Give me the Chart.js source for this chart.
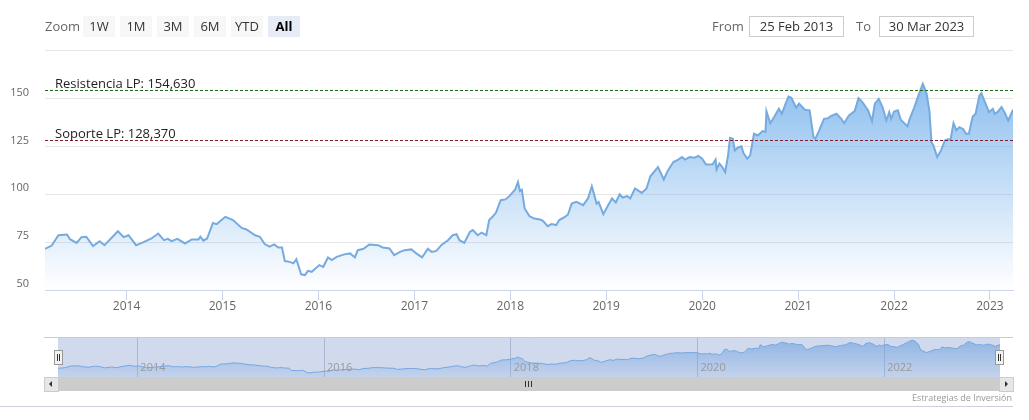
<!DOCTYPE html>
<html>
<head>
<meta charset="utf-8">
<script src="https://cdn.jsdelivr.net/npm/chart.js@4.4.0/dist/chart.umd.min.js"></script>
<style>
  body { margin: 0; background: #fff; font-family: 'Open Sans', sans-serif; }
  #wrap { position: relative; width: 1029px; height: 420px; overflow: hidden; }
  .abs { position: absolute; }
  .lbl { color: #666; font-size: 13px; line-height: 21px; top: 16px; }
  .btn { top: 16px; width: 32px; height: 21px; line-height: 21px; background: #f7f7f7;
         color: #333; font-size: 13px; text-align: center; }
  .btn.sel { background: #e6ebf5; color: #000; font-weight: bold; }
  .inp { top: 16px; height: 19px; line-height: 19px; border: 1px solid #ccc; color: #333;
         font-size: 13px; text-align: center; }
  #mainWrap { left: 0; top: 28px; width: 1029px; height: 294px; }
  #navWrap { left: 0; top: 330px; width: 1029px; height: 50px; }
  .handle { width: 7px; height: 13px; top: 350px; background: #f2f2f2; border: 1px solid #999; }
  .handle i { position: absolute; top: 3px; width: 1px; height: 7px; background: #333; }
</style>
</head>
<body>
<div id="wrap">
  <div class="abs" id="mainWrap"><canvas id="mainChart"></canvas></div>
  <div class="abs" id="navWrap"><canvas id="navChart"></canvas></div>

  <div class="abs lbl" style="left:45px">Zoom</div>
  <div class="abs btn" style="left:83px">1W</div>
  <div class="abs btn" style="left:120px">1M</div>
  <div class="abs btn" style="left:157px">3M</div>
  <div class="abs btn" style="left:194px">6M</div>
  <div class="abs btn" style="left:231px">YTD</div>
  <div class="abs btn sel" style="left:268px">All</div>

  <div class="abs lbl" style="left:712px">From</div>
  <div class="abs inp" style="left:749px;width:93px">25 Feb 2013</div>
  <div class="abs lbl" style="left:856px">To</div>
  <div class="abs inp" style="left:879px;width:93px">30 Mar 2023</div>

  <!-- scrollbar -->
  <div class="abs" style="left:44px;top:377px;width:969px;height:14px;background:#cccccc"></div>
  <div class="abs" style="left:44px;top:377px;width:13px;height:13px;background:#e6e6e6;border:1px solid #ccc"></div>
  <div class="abs" style="left:999px;top:377px;width:13px;height:13px;background:#e6e6e6;border:1px solid #ccc"></div>
  <div class="abs" style="left:49px;top:381px;width:0;height:0;border-top:3px solid transparent;border-bottom:3px solid transparent;border-right:3px solid #333"></div>
  <div class="abs" style="left:1005px;top:381px;width:0;height:0;border-top:3px solid transparent;border-bottom:3px solid transparent;border-left:3px solid #333"></div>
  <div class="abs" style="left:525px;top:381px;width:1px;height:6px;background:#333"></div>
  <div class="abs" style="left:528px;top:381px;width:1px;height:6px;background:#333"></div>
  <div class="abs" style="left:531px;top:381px;width:1px;height:6px;background:#333"></div>

  <div class="abs handle" style="left:54px"><i style="left:2px"></i><i style="left:4px"></i></div>
  <div class="abs handle" style="left:995px"><i style="left:2px"></i><i style="left:4px"></i></div>

  <div class="abs" style="right:17px;top:391px;font-size:9px;color:#999">Estrategias de Inversión</div>
  <div class="abs" style="left:0;top:406px;width:1013px;height:1px;background:#ccd0d8"></div>
</div>

<script>
// decimal years and prices
const years = [
  2013.15, 2013.22, 2013.29, 2013.38, 2013.41, 2013.48, 2013.53, 2013.58, 2013.65, 2013.72,
  2013.77, 2013.91, 2013.97, 2014.02, 2014.10, 2014.16, 2014.26, 2014.33, 2014.39, 2014.43,
  2014.47, 2014.53, 2014.61, 2014.68, 2014.75, 2014.77, 2014.80, 2014.84, 2014.90, 2014.94,
  2014.99, 2015.03, 2015.11, 2015.20, 2015.25, 2015.34, 2015.39, 2015.44, 2015.49, 2015.54,
  2015.58, 2015.62, 2015.65, 2015.70, 2015.74, 2015.77, 2015.82, 2015.86, 2015.89, 2015.93,
  2016.01, 2016.05, 2016.10, 2016.14, 2016.19, 2016.27, 2016.33, 2016.38, 2016.41, 2016.47,
  2016.53, 2016.62, 2016.67, 2016.74, 2016.79, 2016.85, 2016.90, 2016.97, 2017.02, 2017.08,
  2017.14, 2017.18, 2017.23, 2017.28, 2017.35, 2017.40, 2017.44, 2017.47, 2017.52, 2017.58,
  2017.61, 2017.66, 2017.70, 2017.75, 2017.78, 2017.82, 2017.85, 2017.90, 2017.95, 2017.99,
  2018.05, 2018.08, 2018.10, 2018.12, 2018.15, 2018.20, 2018.25, 2018.31, 2018.34, 2018.39,
  2018.43, 2018.48, 2018.51, 2018.57, 2018.60, 2018.64, 2018.69, 2018.76, 2018.81, 2018.85,
  2018.90, 2018.92, 2018.97, 2019.02, 2019.06, 2019.10, 2019.14, 2019.17, 2019.22, 2019.25,
  2019.30, 2019.37, 2019.42, 2019.46, 2019.54, 2019.60, 2019.64, 2019.70, 2019.75, 2019.79,
  2019.82, 2019.87, 2019.92, 2019.96, 2020.00, 2020.04, 2020.11, 2020.14, 2020.15, 2020.18,
  2020.21, 2020.24, 2020.27, 2020.29, 2020.32, 2020.34, 2020.37, 2020.41, 2020.43, 2020.47,
  2020.50, 2020.54, 2020.58, 2020.63, 2020.66, 2020.67, 2020.71, 2020.75, 2020.80, 2020.83,
  2020.87, 2020.90, 2020.93, 2020.98, 2021.01, 2021.07, 2021.12, 2021.16, 2021.18, 2021.22,
  2021.27, 2021.31, 2021.34, 2021.40, 2021.45, 2021.48, 2021.53, 2021.59, 2021.63, 2021.67,
  2021.73, 2021.77, 2021.80, 2021.84, 2021.88, 2021.92, 2021.95, 2021.97, 2022.00, 2022.04,
  2022.07, 2022.14, 2022.16, 2022.21, 2022.25, 2022.30, 2022.34, 2022.37, 2022.39, 2022.41,
  2022.45, 2022.49, 2022.53, 2022.56, 2022.59, 2022.62, 2022.65, 2022.68, 2022.72, 2022.75,
  2022.78, 2022.82, 2022.85, 2022.89, 2022.91, 2022.94, 2022.99, 2023.03, 2023.05, 2023.08,
  2023.12, 2023.15, 2023.19, 2023.24
];
const prices = [
  71.5, 73.2, 78.6, 79.0, 76.5, 74.6, 77.6, 77.8, 72.9, 75.5,
  73.4, 80.7, 77.6, 78.6, 73.4, 74.6, 76.9, 79.5, 76.0, 76.7,
  75.5, 76.7, 74.3, 76.4, 76.4, 77.8, 75.8, 76.9, 85.0, 84.4,
  86.5, 88.2, 86.5, 82.4, 81.6, 78.6, 77.8, 74.0, 72.6, 73.8,
  72.2, 72.2, 65.1, 64.7, 63.9, 66.1, 58.2, 57.8, 60.0, 59.5,
  63.0, 62.1, 67.0, 65.6, 67.3, 68.6, 69.1, 67.0, 70.8, 71.5,
  73.8, 73.4, 72.2, 71.7, 68.2, 69.9, 70.8, 71.2, 69.1, 67.0,
  71.5, 69.9, 70.4, 73.4, 76.0, 78.6, 79.1, 76.0, 74.6, 80.4,
  81.3, 78.6, 79.9, 78.6, 86.5, 88.5, 90.3, 96.9, 97.3, 99.0,
  102.4, 106.4, 101.7, 102.4, 92.6, 88.5, 87.3, 86.8, 86.1, 83.3,
  84.4, 83.9, 86.5, 88.2, 89.3, 95.1, 96.0, 94.3, 97.8, 104.2,
  95.1, 96.0, 89.6, 94.3, 97.8, 95.7, 100.0, 98.3, 99.0, 97.8,
  103.0, 100.7, 103.0, 109.4, 114.2, 107.7, 112.1, 116.8, 118.1, 119.4,
  118.1, 119.4, 119.1, 120.0, 118.6, 115.5, 115.6, 118.1, 112.9, 116.0,
  114.2, 111.6, 120.3, 129.5, 129.0, 122.9, 124.3, 125.0, 121.5, 118.6,
  120.3, 131.6, 130.7, 133.0, 132.5, 143.4, 137.1, 140.3, 144.6, 142.0,
  147.3, 151.0, 150.4, 145.2, 147.3, 144.1, 143.8, 129.9, 129.0, 133.3,
  139.4, 139.7, 140.8, 142.0, 139.4, 137.1, 141.1, 143.4, 150.2, 148.1,
  143.8, 138.2, 147.3, 149.8, 145.5, 138.5, 142.9, 139.4, 143.2, 143.8,
  138.9, 135.4, 138.9, 145.2, 151.0, 157.6, 152.4, 143.0, 127.2, 125.5,
  119.4, 122.9, 128.1, 128.7, 128.7, 137.1, 133.3, 135.0, 134.0, 131.6,
  131.6, 140.6, 142.0, 151.6, 152.8, 149.0, 142.9, 144.6, 142.0, 143.0,
  145.5, 142.9, 138.5, 144.1
];

const yTicks = [50, 75, 100, 125, 150, 175];
const xTicks = [2014, 2015, 2016, 2017, 2018, 2019, 2020, 2021, 2022, 2023];
const navTicks = [2014, 2016, 2018, 2020, 2022];
const plotLineValues = [154.63, 128.37];
const plotLineLabels = ['Resistencia LP: 154,630', 'Soporte LP: 128,370'];
const plotLineColors = ['#1e6b1e', '#7f1d2d'];

const startYear = years[0];
const endYear = years[years.length - 1];
const points = years.map((x, i) => ({ x: x, y: prices[i] }));

Chart.defaults.font.family = "'Open Sans', sans-serif";
Chart.defaults.color = '#666';

function areaGradient(top, bottom) {
  return function (ctx) {
    const a = ctx.chart.chartArea;
    if (!a) return 'rgba(124,181,236,0.5)';
    const g = ctx.chart.ctx.createLinearGradient(0, a.top, 0, a.bottom);
    g.addColorStop(0, 'rgba(124,181,236,' + top + ')');
    g.addColorStop(1, 'rgba(124,181,236,' + bottom + ')');
    return g;
  };
}

// dashed support / resistance lines with their labels
const plotLinesPlugin = {
  id: 'plotLines',
  afterDatasetsDraw(chart) {
    const ctx = chart.ctx, a = chart.chartArea, ys = chart.scales.y;
    ctx.save();
    plotLineValues.forEach((v, i) => {
      const y = Math.round(ys.getPixelForValue(v)) + 0.5;
      ctx.strokeStyle = plotLineColors[i];
      ctx.lineWidth = 1;
      ctx.setLineDash([3, 2]);
      ctx.beginPath();
      ctx.moveTo(a.left, y);
      ctx.lineTo(a.right, y);
      ctx.stroke();
      ctx.setLineDash([]);
      ctx.fillStyle = '#222';
      ctx.font = "13px 'Open Sans', sans-serif";
      ctx.textBaseline = 'alphabetic';
      ctx.fillText(plotLineLabels[i], a.left + 10, y - 3);
    });
    ctx.restore();
  }
};

new Chart(document.getElementById('mainChart'), {
  type: 'line',
  data: {
    datasets: [{
      data: points,
      borderColor: '#76abe0',
      borderWidth: 2,
      backgroundColor: areaGradient(1, 0),
      fill: 'start',
      pointRadius: 0,
      tension: 0
    }]
  },
  options: {
    responsive: true,
    maintainAspectRatio: false,
    animation: false,
    layout: { padding: { left: 0, right: 16, top: 10, bottom: 0 } },
    plugins: { legend: { display: false }, tooltip: { enabled: false } },
    scales: {
      x: {
        type: 'linear',
        min: startYear,
        max: endYear,
        afterBuildTicks: s => { s.ticks = xTicks.map(v => ({ value: v })); },
        afterFit: s => { s.height = 32; },
        ticks: { callback: v => String(v), font: { size: 12 }, color: '#666', padding: -1, maxRotation: 0 },
        grid: { drawOnChartArea: false, drawTicks: true, tickLength: 10, color: '#ccd6eb' },
        border: { display: true, color: '#ccd6eb' }
      },
      y: {
        min: 50,
        max: 175,
        afterBuildTicks: s => { s.ticks = yTicks.map(v => ({ value: v })); },
        afterFit: s => { s.width = 45; },
        ticks: {
          callback: v => (v === 175 ? '' : String(v)),
          font: { size: 11 },
          color: '#666',
          padding: 16,
          labelOffset: -6
        },
        grid: { color: '#e6e6e6', drawTicks: false },
        border: { display: false }
      }
    }
  },
  plugins: [plotLinesPlugin]
});

// navigator: mask over the selected range, outline, and in-plot year labels
const navPlugin = {
  id: 'navExtras',
  afterDatasetsDraw(chart) {
    const ctx = chart.ctx, a = chart.chartArea, xs = chart.scales.x;
    ctx.save();
    ctx.fillStyle = 'rgba(102,133,194,0.3)';
    ctx.fillRect(a.left, a.top, a.right - a.left, a.bottom - a.top);
    ctx.strokeStyle = '#cccccc';
    ctx.lineWidth = 1;
    ctx.beginPath();
    ctx.moveTo(44, a.top + 0.5);
    ctx.lineTo(1013, a.top + 0.5);
    ctx.stroke();
    ctx.fillStyle = '#999';
    ctx.font = "11px 'Open Sans', sans-serif";
    ctx.textBaseline = 'middle';
    navTicks.forEach(v => {
      ctx.fillText(String(v), xs.getPixelForValue(v) + 3, a.bottom - 9);
    });
    ctx.restore();
  }
};

new Chart(document.getElementById('navChart'), {
  type: 'line',
  data: {
    datasets: [{
      data: points,
      borderColor: '#7cb5ec',
      borderWidth: 1,
      backgroundColor: areaGradient(0.75, 0.15),
      fill: 'start',
      pointRadius: 0,
      tension: 0
    }]
  },
  options: {
    responsive: true,
    maintainAspectRatio: false,
    animation: false,
    layout: { padding: { left: 58, right: 29, top: 7, bottom: 3 } },
    plugins: { legend: { display: false }, tooltip: { enabled: false } },
    scales: {
      x: {
        type: 'linear',
        min: startYear,
        max: endYear,
        afterBuildTicks: s => { s.ticks = navTicks.map(v => ({ value: v })); },
        afterFit: s => { s.height = 0; },
        ticks: { display: false },
        grid: { color: '#c8cdd6', drawTicks: false },
        border: { display: false }
      },
      y: { display: false, min: 45, max: 167 }
    }
  },
  plugins: [navPlugin]
});
</script>
</body>
</html>
